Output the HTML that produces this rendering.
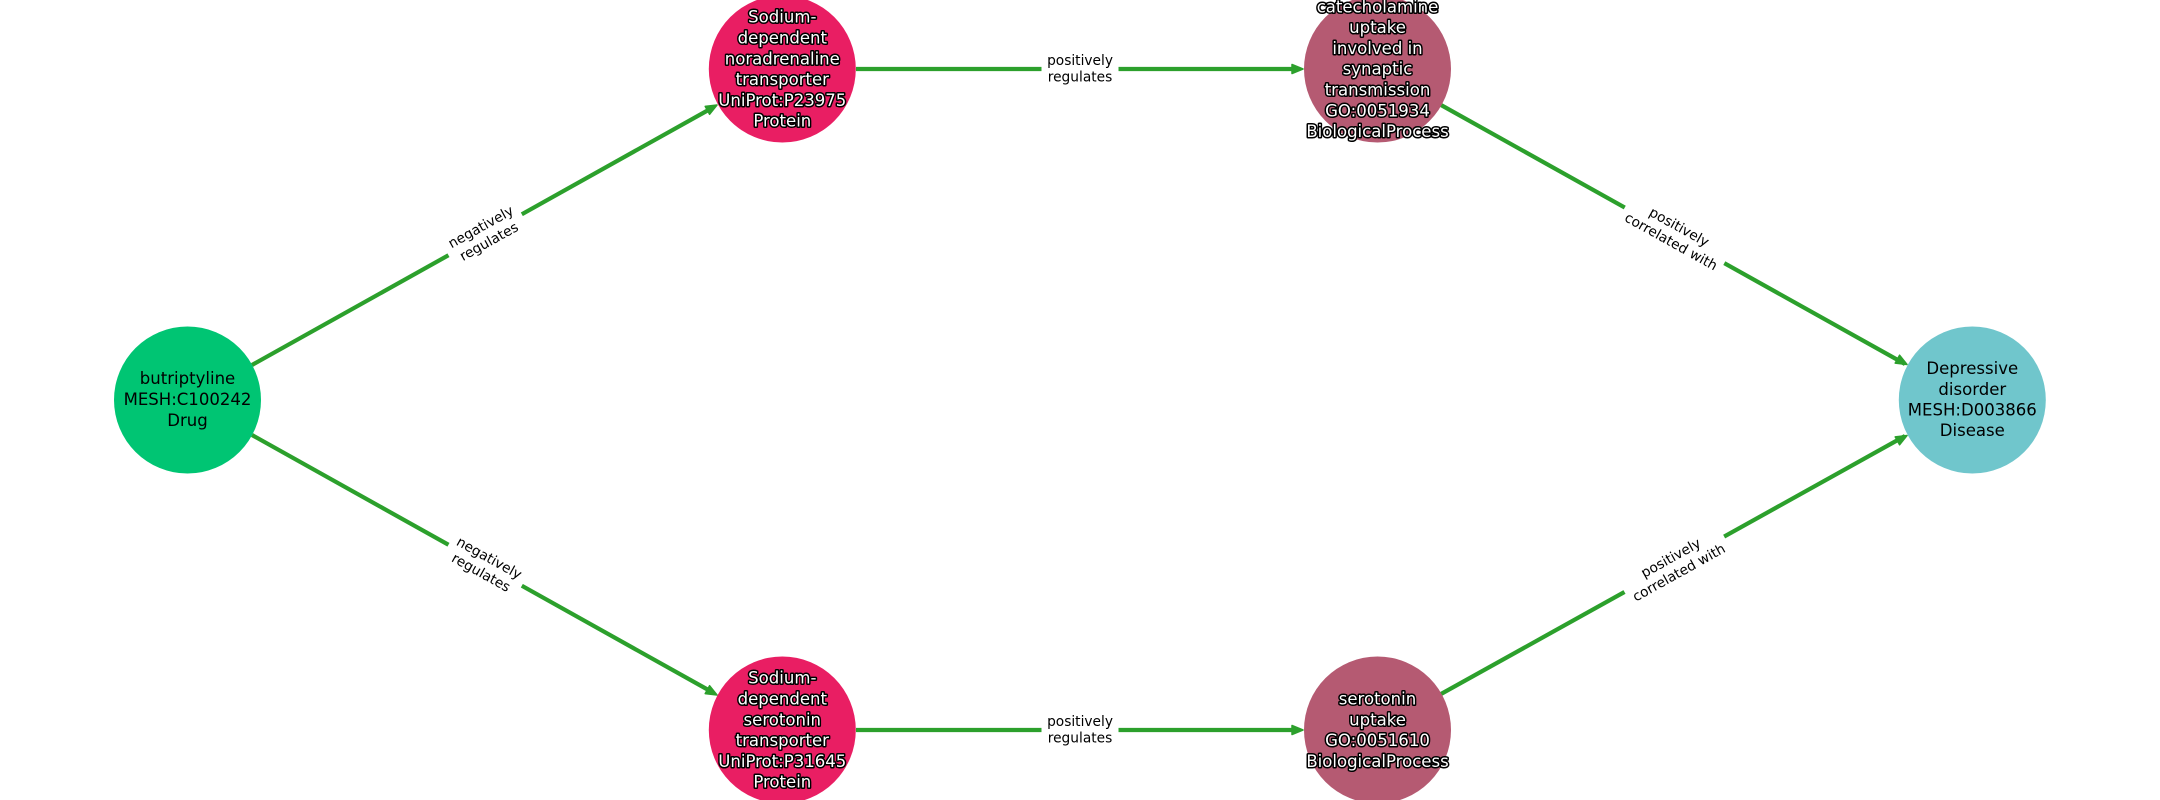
<!DOCTYPE html>
<html><head><meta charset="utf-8"><style>
html,body{margin:0;padding:0;background:#fff;width:2160px;height:800px;overflow:hidden}
svg{display:block}
text{font-family:"DejaVu Sans","Liberation Sans",sans-serif;text-anchor:middle}
.n{font-size:16.55px;fill:#000}
.w{font-size:16.55px;fill:#fff;stroke:#000;stroke-width:3px;paint-order:stroke;stroke-linejoin:round}
.e{font-size:13.75px;fill:#000}
line{stroke:#2ca02c;stroke-width:4.2px}
.a{fill:#2ca02c;stroke:#2ca02c;stroke-width:1.5px;stroke-linejoin:round}
</style></head><body>
<svg xmlns="http://www.w3.org/2000/svg" width="2160" height="800" viewBox="0 0 2160 800">
<rect width="2160" height="800" fill="#fff"/>
<line x1="252" y1="365" x2="712" y2="108"/>
<line x1="252" y1="435" x2="712" y2="692"/>
<line x1="856" y1="69" x2="1298" y2="69"/>
<line x1="856" y1="730" x2="1298" y2="730"/>
<line x1="1441" y1="105" x2="1905" y2="364"/>
<line x1="1441" y1="694" x2="1905" y2="436"/>

<polygon class="a" points="0,0 -11,-4.5 -11,4.5" transform="translate(717,105) rotate(-29.1)"/>
<polygon class="a" points="0,0 -11,-4.5 -11,4.5" transform="translate(717,695) rotate(29.1)"/>
<polygon class="a" points="0,0 -11,-4.5 -11,4.5" transform="translate(1303,69)"/>
<polygon class="a" points="0,0 -11,-4.5 -11,4.5" transform="translate(1303,730)"/>
<polygon class="a" points="0,0 -11,-4.5 -11,4.5" transform="translate(1907,364.5) rotate(29.1)"/>
<polygon class="a" points="0,0 -11,-4.5 -11,4.5" transform="translate(1907,435.5) rotate(-29.1)"/>

<circle cx="187.5" cy="400" r="73.5" fill="#00c573"/>
<circle cx="782.3" cy="69" r="73.5" fill="#e91e63"/>
<circle cx="782.3" cy="730" r="73.5" fill="#e91e63"/>
<circle cx="1377.5" cy="69" r="73.5" fill="#b55a72"/>
<circle cx="1377.5" cy="730" r="73.5" fill="#b55a72"/>
<circle cx="1972.3" cy="400" r="73.5" fill="#70c6cc"/>

<g class="n">
<text x="187.5" y="384.2">butriptyline</text>
<text x="187.5" y="405">MESH:C100242</text>
<text x="187.5" y="425.8">Drug</text>
<text x="1972.3" y="374">Depressive</text>
<text x="1972.3" y="394.8">disorder</text>
<text x="1972.3" y="415.6">MESH:D003866</text>
<text x="1972.3" y="436.2">Disease</text>
</g>
<g class="w">
<text x="782.3" y="22.7">Sodium-</text>
<text x="782.3" y="43.5">dependent</text>
<text x="782.3" y="64.3">noradrenaline</text>
<text x="782.3" y="85.1">transporter</text>
<text x="782.3" y="105.9">UniProt:P23975</text>
<text x="782.3" y="126.7">Protein</text>
<text x="782.3" y="683.7">Sodium-</text>
<text x="782.3" y="704.5">dependent</text>
<text x="782.3" y="725.3">serotonin</text>
<text x="782.3" y="746.1">transporter</text>
<text x="782.3" y="766.9">UniProt:P31645</text>
<text x="782.3" y="787.7">Protein</text>
<text x="1377.5" y="12.3">catecholamine</text>
<text x="1377.5" y="33.1">uptake</text>
<text x="1377.5" y="53.9">involved in</text>
<text x="1377.5" y="74.7">synaptic</text>
<text x="1377.5" y="95.5">transmission</text>
<text x="1377.5" y="116.3">GO:0051934</text>
<text x="1377.5" y="137.1">BiologicalProcess</text>
<text x="1377.5" y="704.5">serotonin</text>
<text x="1377.5" y="725.3">uptake</text>
<text x="1377.5" y="746.1">GO:0051610</text>
<text x="1377.5" y="766.9">BiologicalProcess</text>
</g>

<g class="e">
<g transform="translate(485,234.5) rotate(-29.1)"><rect x="-42" y="-22" width="84" height="44" fill="#fff"/><text y="-4">negatively</text><text y="12.7">regulates</text></g>
<g transform="translate(485,565.5) rotate(29.1)"><rect x="-42" y="-22" width="84" height="44" fill="#fff"/><text y="-4">negatively</text><text y="12.7">regulates</text></g>
<g transform="translate(1080,69)"><rect x="-38.5" y="-22" width="77" height="44" fill="#fff"/><text y="-4">positively</text><text y="12.7">regulates</text></g>
<g transform="translate(1080,730)"><rect x="-38.5" y="-22" width="77" height="44" fill="#fff"/><text y="-4">positively</text><text y="12.7">regulates</text></g>
<g transform="translate(1675,234.5) rotate(29.1)"><rect x="-57" y="-22" width="114" height="44" fill="#fff"/><text y="-4">positively</text><text y="12.7">correlated with</text></g>
<g transform="translate(1675,565.5) rotate(-29.1)"><rect x="-57" y="-22" width="114" height="44" fill="#fff"/><text y="-4">positively</text><text y="12.7">correlated with</text></g>
</g>
</svg>
</body></html>
